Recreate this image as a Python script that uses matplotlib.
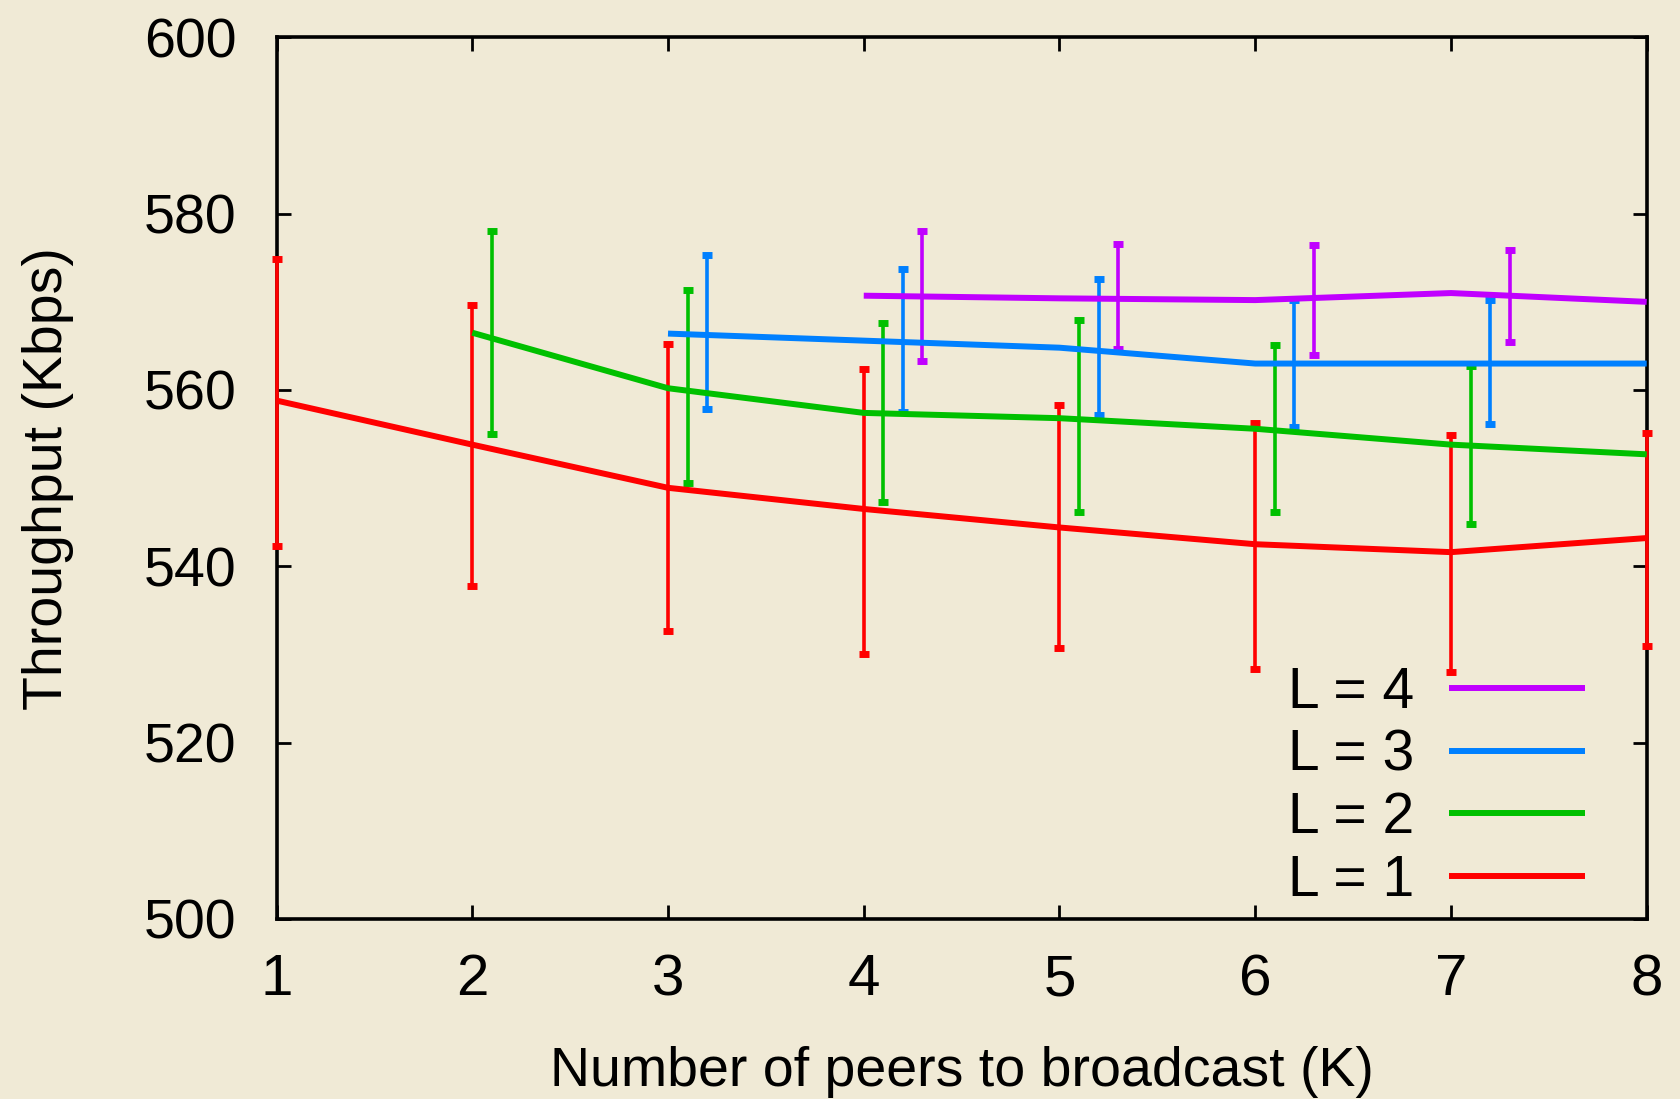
import numpy as np
import matplotlib
matplotlib.use("Agg")
import matplotlib.pyplot as plt

# values
k = np.array([1, 2, 3, 4, 5, 6, 7, 8])

l1_mean = [558.8, 553.8, 548.9, 546.5, 544.4, 542.5, 541.6, 543.2]
l1_lo = [542.3, 537.8, 532.7, 530.0, 530.7, 528.3, 528.0, 531.0]
l1_hi = [574.9, 569.7, 565.2, 562.4, 558.3, 556.2, 554.9, 555.1]

l2_mean = [566.5, 560.2, 557.4, 556.8, 555.6, 553.8, 552.7]
l2_lo = [555.0, 549.4, 547.3, 546.1, 546.1, 544.8, 544.0]
l2_hi = [578.0, 571.3, 567.6, 567.9, 565.1, 562.7, 561.0]

l3_mean = [566.4, 565.6, 564.8, 563.0, 563.0, 563.0]
l3_lo = [557.8, 557.5, 557.2, 555.8, 556.1, 556.0]
l3_hi = [575.3, 573.7, 572.6, 570.2, 570.2, 570.0]

l4_mean = [570.7, 570.4, 570.2, 571.0, 570.0]
l4_lo = [563.3, 564.7, 564.0, 565.5, 564.0]
l4_hi = [578.0, 576.6, 576.4, 575.9, 576.0]

series = [
    ("L = 1", l1_mean, l1_lo, l1_hi, "#ff0000"),
    ("L = 2", l2_mean, l2_lo, l2_hi, "#00c000"),
    ("L = 3", l3_mean, l3_lo, l3_hi, "#0080ff"),
    ("L = 4", l4_mean, l4_lo, l4_hi, "#c000ff"),
]

bg = "#f0ead6"
plt.rcParams["font.family"] = ["Liberation Sans", "DejaVu Sans"]

fig = plt.figure(figsize=(16.81, 10.99), dpi=100, facecolor=bg)
ax = fig.add_axes([0.1645, 0.164, 0.9796 - 0.1645, 0.9659 - 0.164])
ax.set_facecolor(bg)

handles = []
for i, (name, mean, lo, hi, col) in enumerate(series):
    x = k[i:]
    mean = np.array(mean)
    lo = np.array(lo)
    hi = np.array(hi)
    ln, = ax.plot(x, mean, color=col, lw=4.3, solid_capstyle="butt", zorder=4)
    handles.append((ln, name))
    xe = x + 0.1 * i
    keep = xe <= 8.0001
    eb = ax.errorbar(xe[keep], mean[keep], yerr=[mean[keep] - lo[keep], hi[keep] - mean[keep]],
                     fmt="none", ecolor=col, elinewidth=2.6, capsize=3.6, capthick=5,
                     zorder=3)
    for c in eb.get_children():
        c.set_clip_on(False)

ax.set_xlim(1, 8)
ax.set_ylim(500, 600)
ax.set_xticks(k)
ax.set_yticks(np.arange(500, 601, 20))
for s in ax.spines.values():
    s.set_linewidth(2.6)
ax.tick_params(direction="in", length=10, width=2, top=True, right=True)
ax.tick_params(axis="y", labelsize=40, pad=29)
ax.tick_params(axis="x", labelsize=42, pad=25)

ax.set_xlabel("Number of peers to broadcast (K)", fontsize=40, labelpad=28)
ax.set_ylabel("Throughput (Kbps)", fontsize=40, labelpad=50)

hs = [h for h, _ in handles][::-1]
ls = [n for _, n in handles][::-1]
leg = ax.legend(hs, ls, loc="lower right", bbox_to_anchor=(0.976, -0.02), frameon=False,
                markerfirst=False, fontsize=41, handlelength=2.4, handletextpad=0.6,
                labelspacing=0.15, borderpad=0)
for ln in leg.get_lines():
    ln.set_linewidth(4.3)

fig.savefig("out.png", dpi=100, facecolor=bg)
